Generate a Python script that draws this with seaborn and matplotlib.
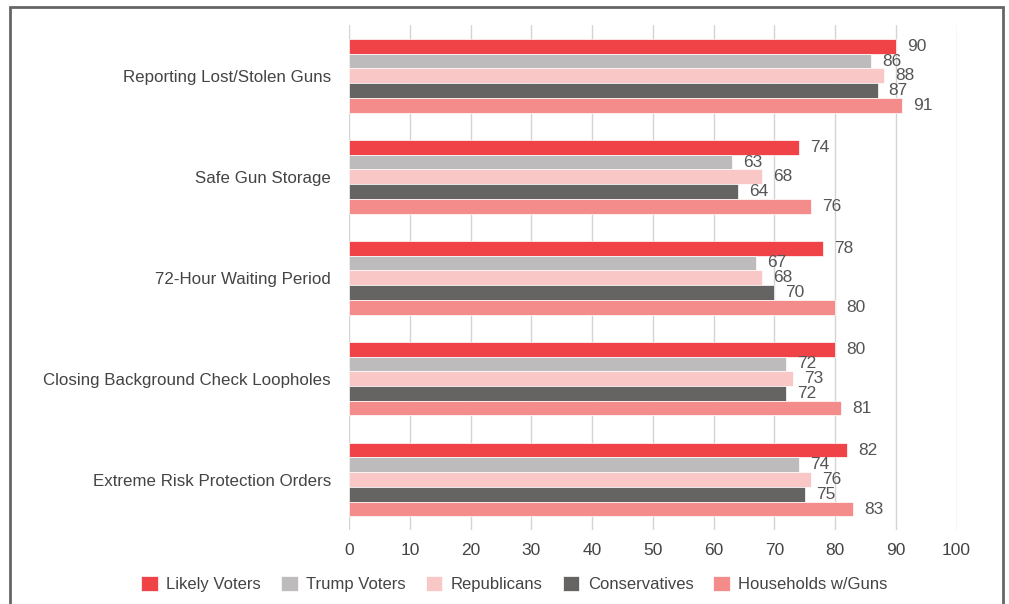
import pandas as pd
import seaborn as sns
import matplotlib.pyplot as plt
from matplotlib.patches import Rectangle

categories = ['Reporting Lost/Stolen Guns', 'Safe Gun Storage', '72-Hour Waiting Period',
              'Closing Background Check Loopholes', 'Extreme Risk Protection Orders']
groups = ['Likely Voters', 'Trump Voters', 'Republicans', 'Conservatives', 'Households w/Guns']
likely_voters = [90, 74, 78, 80, 82]
trump_voters = [86, 63, 67, 72, 74]
republicans = [88, 68, 68, 73, 76]
conservatives = [87, 64, 70, 72, 75]
households = [91, 76, 80, 81, 83]
colors = ['#EF4347', '#BDBBBC', '#FAC7C7', '#666462', '#F48C8C']

if __name__ == '__main__':
    series = [likely_voters, trump_voters, republicans, conservatives, households]
    rows = []
    for g, vals in zip(groups, series):
        for c, v in zip(categories, vals):
            rows.append({'category': c, 'group': g, 'value': v})
    data = pd.DataFrame(rows)

    sns.set_style('white')
    plt.rcParams['font.family'] = ['Liberation Sans', 'DejaVu Sans']

    fig = plt.figure(figsize=(10.09, 6.04), dpi=100)
    ax = fig.add_axes([0.346, 0.1225, 0.602, 0.8355])

    sns.barplot(data=data, y='category', x='value', hue='group', orient='h',
                palette=colors, saturation=1, width=0.73, edgecolor='white',
                linewidth=0.5, ax=ax)

    for cont in ax.containers:
        ax.bar_label(cont, padding=8, fontsize=12.5, color='#555555')

    ax.set_xlim(0, 100)
    ax.set_xticks(range(0, 101, 10))
    ax.set_xlabel('')
    ax.set_ylabel('')
    sns.despine(ax=ax, left=True, bottom=True)
    ax.grid(axis='x', color='#D4D4D4', linewidth=1)
    ax.set_axisbelow(True)
    ax.tick_params(axis='both', length=0, labelsize=12.5, labelcolor='#444444')
    ax.tick_params(axis='x', pad=9)
    ax.tick_params(axis='y', pad=13, labelsize=12.2)

    handles, labels = ax.get_legend_handles_labels()
    ax.legend_.remove()
    fig.legend(handles, labels, loc='center', bbox_to_anchor=(0.51, 0.033), ncol=5,
               frameon=False, fontsize=12, handlelength=1.0, handleheight=1.0,
               handletextpad=0.5, columnspacing=1.2, labelcolor='#444444')

    fig.patches.append(Rectangle((0.0095, -0.1), 0.985, 1.088, transform=fig.transFigure,
                                 fill=False, edgecolor='#666666', linewidth=2))

    plt.savefig('out.png', dpi=100)
